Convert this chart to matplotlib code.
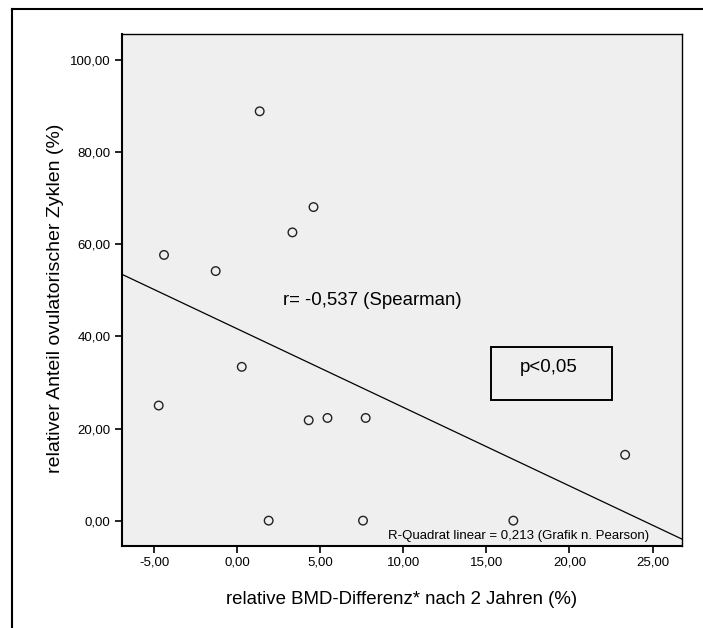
import numpy as np
import matplotlib
matplotlib.use("Agg")
import matplotlib.pyplot as plt
from matplotlib.lines import Line2D
from matplotlib.patches import Rectangle
from matplotlib.ticker import FuncFormatter

plt.rcParams['font.family'] = ['Liberation Sans', 'DejaVu Sans']

# Data
bmd_diff = [1.35, 4.59, 3.32, -4.41, -1.30, 0.27, -4.73, 4.30, 5.43, 7.73, 23.35, 1.89, 7.57, 16.62]
ovul_share = [88.9, 68.1, 62.6, 57.7, 54.2, 33.4, 25.0, 21.8, 22.3, 22.3, 14.3, 0.0, 0.0, 0.0]
x_ticks = [-5, 0, 5, 10, 15, 20, 25]
y_ticks = [0, 20, 40, 60, 80, 100]

fig = plt.figure(figsize=(7.03, 6.28), dpi=100)
W, H = 703, 628
ax = fig.add_axes([121.5 / W, 1 - 545.5 / H, (681.6 - 121.5) / W, (545.5 - 34.4) / H])
ax.set_facecolor('#efefef')

x0, x1 = -6.97, 26.75
ax.set_xlim(x0, x1)
ax.set_ylim(-5.4, 105.6)

ax.scatter(bmd_diff, ovul_share, s=38, facecolors='none', edgecolors='#222222', linewidths=1.0, zorder=3)

# linear fit line
slope, intercept = np.polyfit(bmd_diff, ovul_share, 1)
xs = np.array([x0, x1])
ax.plot(xs, slope * xs + intercept, color='black', linewidth=0.9, zorder=2)

fmt = FuncFormatter(lambda v, p: f"{v:.2f}".replace('.', ','))
ax.set_xticks(x_ticks)
ax.set_yticks(y_ticks)
ax.xaxis.set_major_formatter(fmt)
ax.yaxis.set_major_formatter(fmt)
ax.tick_params(direction='out', length=5, width=1.2, labelsize=9.5, color='black', pad=3)

for s in ['top', 'right']:
    ax.spines[s].set_linewidth(1.0)
for s in ['left', 'bottom']:
    ax.spines[s].set_linewidth(1.5)

ax.set_xlabel('relative BMD-Differenz* nach 2 Jahren (%)', fontsize=13.4, labelpad=16)
ax.set_ylabel('relativer Anteil ovulatorischer Zyklen (%)', fontsize=14)
ax.yaxis.set_label_coords(-0.102, 0.484)

ax.text(2.74, 47.9, 'r= -0,537 (Spearman)', fontsize=13.4, ha='left', va='center')
ax.add_patch(Rectangle((15.25, 26.1), 22.55 - 15.25, 37.7 - 26.1, facecolor='none',
                       edgecolor='black', linewidth=1.4, zorder=4))
ax.text(18.75, 33.2, 'p<0,05', fontsize=13.4, ha='center', va='center')
ax.text(24.8, -3.3, 'R-Quadrat linear = 0,213 (Grafik n. Pearson)', fontsize=9.5, ha='right', va='center')

# outer frame (top and left)
fig.add_artist(Line2D([12.3 / W, 12.3 / W], [0, 1 - 9.3 / H], transform=fig.transFigure, color='black', linewidth=1.5))
fig.add_artist(Line2D([12.3 / W, 1], [1 - 9.3 / H, 1 - 9.3 / H], transform=fig.transFigure, color='black', linewidth=1.5))

fig.savefig('out.png', dpi=100, facecolor='white')
